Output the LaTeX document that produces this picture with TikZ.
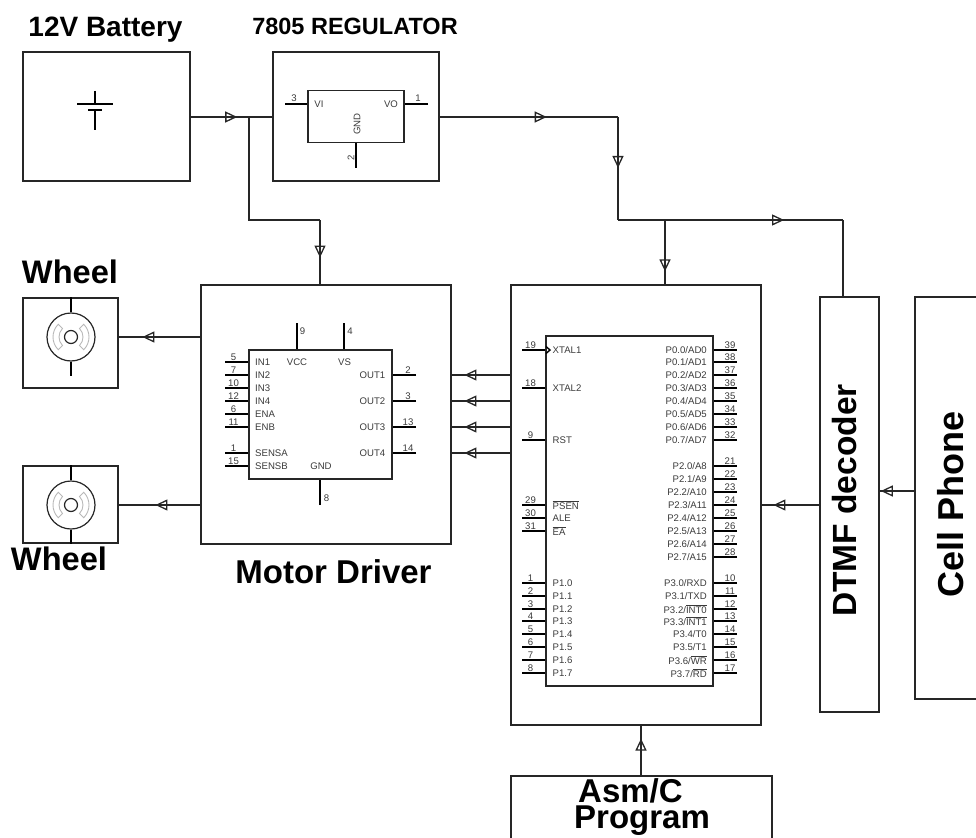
\documentclass[tikz,border=0pt]{standalone}
\usepackage{fontspec}
\setmainfont{Liberation Sans}
\usepackage{xcolor}
\usetikzlibrary{arrows.meta,decorations.markings}
\definecolor{inkline}{HTML}{262626}
\definecolor{inktext}{HTML}{3A3A3A}
\definecolor{magnet}{HTML}{B8B8B8}
\newcommand{\ovl}[1]{$\overline{\mbox{#1}}$}
\newcommand{\bigtext}[1]{\fontsize{#1}{26}\selectfont\bfseries}
\tikzset{
  blockbox/.style={draw=inkline,line width=1.5pt,rectangle,inner sep=0pt},
  chipbox/.style={draw=inkline,line width=1.5pt,rectangle,inner sep=0pt},
  wire/.style={draw=inkline,line width=1.5pt},
  pinline/.style={draw=black,line width=1.4pt},
  midarrow/.style={postaction={decorate,decoration={markings,
      mark=at position #1 with {\arrow{Triangle[open,length=12pt,width=11pt,line width=1.3pt]}}}}},
  pinnum/.style={text=inktext,font=\fontsize{9.6}{10}\selectfont,inner sep=0pt},
  pinlab/.style={text=inktext,font=\fontsize{9.6}{10}\selectfont,inner sep=0pt},
}
\begin{document}
\begin{tikzpicture}[x=1pt,y=-1pt]
    \path[use as bounding box,clip] (0,0) rectangle (976,837);

    % blocks
    \node[blockbox,minimum width=167pt,minimum height=129pt] (bat) at (106.5,116.5) {};
    \node[blockbox,minimum width=166pt,minimum height=129pt] (reg) at (356,116.5) {};
    \node[blockbox,minimum width=250pt,minimum height=259pt] (drv) at (326,414.5) {};
    \node[blockbox,minimum width=250pt,minimum height=440pt] (mcu) at (636,505) {};
    \node[blockbox,minimum width=59pt,minimum height=415pt] (dtmf) at (849.5,504.5) {};
    \node[blockbox,minimum width=100pt,minimum height=402pt] (cell) at (965,498) {};
    \node[blockbox,minimum width=261pt,minimum height=100pt] (asm) at (641.5,826) {};
    \node[blockbox,minimum width=95pt,minimum height=90pt] (whl1) at (70.5,343) {};
    \node[blockbox,minimum width=95pt,minimum height=77pt] (whl2) at (70.5,504.5) {};

    % titles
    \node[anchor=base,font=\bigtext{28}] (t1) at (105.5,37) {12V Battery};
    \node[anchor=base,font=\bigtext{23.5}] (t2) at (355,35) {7805 REGULATOR};
    \node[anchor=base,font=\bigtext{32.6}] (t3) at (70,283) {Wheel};
    \node[anchor=base,font=\bigtext{32.6}] (t4) at (59,570) {Wheel};
    \node[anchor=base,font=\bigtext{33}] (t5) at (333.5,583) {Motor Driver};
    \node[anchor=base,rotate=90,font=\bigtext{33.5}] (t6) at (856,500.5) {DTMF decoder};
    \node[anchor=base,rotate=90,font=\bigtext{36}] (t7) at (963,504.5) {Cell Phone};
    \node[anchor=north west,align=left,inner sep=0pt,font=\bigtext{33}] (t8) at (574,778) {\hspace*{4pt}Asm/C\\Program};

    % battery symbol
    \coordinate (b1) at (95,91);
    \coordinate (b2) at (95,104);
    \coordinate (b3) at (95,110);
    \coordinate (b4) at (95,130);
    \draw[pinline] (b1) -- (b2) (77,104) -- (113,104);
    \draw[pinline] (b3) -- (b4) (88,110) -- (102,110);

    % regulator
    \node[chipbox,minimum width=96pt,minimum height=52pt] (regchip) at (356,116.5) {};
    \coordinate (regin) at (285,104);
    \coordinate (regout) at (428,104);
    \coordinate (reggnd) at (356,168);
    \draw[pinline] (regin) -- (regin -| regchip.west);
    \draw[pinline] (regout) -- (regout -| regchip.east);
    \draw[pinline] (reggnd) -- (reggnd |- regchip.south);
    \node[pinnum] (r3) at (294,98) {3};
    \node[pinnum] (r1) at (418,98) {1};
    \node[pinnum,rotate=90] (r2) at (351,158) {2};
    \node[pinlab] (rvi) at (319,104.5) {VI};
    \node[pinlab] (rvo) at (391,104.5) {VO};
    \node[pinlab,rotate=90] (rgnd) at (357,124) {GND};

    % motor driver
    \node[chipbox,minimum width=143pt,minimum height=129pt] (drvchip) at (320.5,414.5) {};
    \foreach \lab/\num/\y in {IN1/5/362,IN2/7/375,IN3/10/388,IN4/12/401,ENA/6/414,ENB/11/427,SENSA/1/453,SENSB/15/466}{
      \coordinate (pin\num) at (225,\y);
      \draw[pinline] (pin\num) -- (pin\num -| drvchip.west);
      \node[pinnum,anchor=south] (num\num) at (233.5,\y-1) {\num};
      \node[pinlab,anchor=west] (lab\num) at (255,\y+0.5) {\lab};
    }
    \foreach \lab/\num/\y in {OUT1/2/375,OUT2/3/401,OUT3/13/427,OUT4/14/453}{
      \coordinate (pin\num) at (416,\y);
      \draw[pinline] (pin\num) -- (pin\num -| drvchip.east);
      \node[pinnum,anchor=south] (num\num) at (408,\y-1) {\num};
      \node[pinlab,anchor=east] (lab\num) at (385.5,\y+0.5) {\lab};
    }
    \coordinate (pin9) at (297,323);
    \coordinate (pin4) at (344,323);
    \coordinate (pin8) at (320,505);
    \draw[pinline] (pin9) -- (pin9 |- drvchip.north);
    \draw[pinline] (pin4) -- (pin4 |- drvchip.north);
    \draw[pinline] (pin8) -- (pin8 |- drvchip.south);
    \node[pinnum] (num9) at (302.5,331) {9};
    \node[pinnum] (num4) at (350,331) {4};
    \node[pinnum] (num8) at (326.5,498) {8};
    \node[pinlab] (labvcc) at (297,362.5) {VCC};
    \node[pinlab] (labvs) at (344.5,362.5) {VS};
    \node[pinlab] (labgnd) at (321,466.5) {GND};

    % 8051
    \node[chipbox,minimum width=167pt,minimum height=350pt] (mcuchip) at (629.5,511) {};
    \foreach \lab/\num/\y in {XTAL1/19/350,XTAL2/18/388,RST/9/440,{\ovl{PSEN}}/29/505,ALE/30/518,{\ovl{EA}}/31/531,
        P1.0/1/583,P1.1/2/596,P1.2/3/609,P1.3/4/621,P1.4/5/634,P1.5/6/647,P1.6/7/660,P1.7/8/673}{
      \coordinate (mpin\num) at (522,\y);
      \draw[pinline] (mpin\num) -- (mpin\num -| mcuchip.west);
      \node[pinnum,anchor=south] (mnum\num) at (530.5,\y-1) {\num};
      \node[pinlab,anchor=west] (mlab\num) at (552.5,\y) {\lab};
    }
    \foreach \lab/\num/\y in {{P0.0/AD0}/39/350,{P0.1/AD1}/38/362,{P0.2/AD2}/37/375,{P0.3/AD3}/36/388,
        {P0.4/AD4}/35/401,{P0.5/AD5}/34/414,{P0.6/AD6}/33/427,{P0.7/AD7}/32/440,
        {P2.0/A8}/21/466,{P2.1/A9}/22/479,{P2.2/A10}/23/492,{P2.3/A11}/24/505,
        {P2.4/A12}/25/518,{P2.5/A13}/26/531,{P2.6/A14}/27/544,{P2.7/A15}/28/557,
        {P3.0/RXD}/10/583,{P3.1/TXD}/11/596,{P3.2/\ovl{INT0}}/12/609,{P3.3/\ovl{INT1}}/13/621,
        {P3.4/T0}/14/634,{P3.5/T1}/15/647,{P3.6/\ovl{WR}}/16/660,{P3.7/\ovl{RD}}/17/673}{
      \coordinate (mpin\num) at (737,\y);
      \draw[pinline] (mpin\num) -- (mpin\num -| mcuchip.east);
      \node[pinnum,anchor=south] (mnum\num) at (730,\y-1) {\num};
      \node[pinlab,anchor=east] (mlab\num) at (707,\y) {\lab};
    }
    \coordinate (clk1) at (546,346.5);
    \coordinate (clk2) at (550,350);
    \coordinate (clk3) at (546,353.5);
    \draw[pinline] (clk1) -- (clk2) -- (clk3);

    % motors
    \foreach \m/\w/\y in {mot1/whl1/337,mot2/whl2/505}{
      \node[draw=inkline,line width=1.2pt,circle,minimum size=48pt,inner sep=0pt] (\m) at (71,\y) {};
      \node[draw=inkline,line width=1.2pt,circle,minimum size=13pt,inner sep=0pt] (\m in) at (71,\y) {};
      \draw[magnet,line width=0.9pt] ([shift={(-135:18pt)}]\m.center) arc[start angle=-135,end angle=-225,radius=18pt]
        -- ([shift={(135:12pt)}]\m.center) arc[start angle=135,end angle=225,radius=12pt] -- cycle;
      \draw[magnet,line width=0.9pt] ([shift={(-45:18pt)}]\m.center) arc[start angle=-45,end angle=45,radius=18pt]
        -- ([shift={(45:12pt)}]\m.center) arc[start angle=45,end angle=-45,radius=12pt] -- cycle;
    }
    \coordinate (mot1end) at (71,376);
    \draw[pinline] (mot1 |- whl1.north) -- (mot1.north);
    \draw[pinline] (mot1.south) -- (mot1end);
    \draw[pinline] (mot2 |- whl2.north) -- (mot2.north);
    \draw[pinline] (mot2.south) -- (mot2 |- whl2.south);

    % wires
    \coordinate (jbat) at (249,117);
    \coordinate (jdrv) at (320,220);
    \coordinate (j1) at (618,117);
    \coordinate (j2) at (618,220);
    \coordinate (j3) at (843,220);
    \coordinate (j4) at (665,220);
    \coordinate (jdtmf) at (820,505);
    \coordinate (jcell) at (915,491);
    \coordinate (jasm) at (641,776);

    \draw[wire,midarrow=.57] (jbat -| bat.east) -- (jbat -| reg.west);
    \draw[wire] (jbat) |- (jdrv);
    \draw[wire,midarrow=.585] (jdrv) -- (jdrv |- drv.north);
    \draw[wire,midarrow=.6] (j1 -| reg.east) -- (j1);
    \draw[wire,midarrow=.495] (j1) -- (j2);
    \draw[wire,midarrow=.738] (j2) -- (j3);
    \draw[wire] (j3) -- (j3 |- dtmf.north);
    \draw[wire,midarrow=.8] (j4) -- (j4 |- mcu.north);
    \draw[wire,midarrow=.71] (mot1 -| drv.west) -- (mot1 -| whl1.east);
    \draw[wire,midarrow=.55] (mot2 -| drv.west) -- (mot2 -| whl2.east);
    \draw[wire,midarrow=.783] (pin2 -| mcu.west) -- (pin2 -| drv.east);
    \draw[wire,midarrow=.783] (pin3 -| mcu.west) -- (pin3 -| drv.east);
    \draw[wire,midarrow=.783] (pin13 -| mcu.west) -- (pin13 -| drv.east);
    \draw[wire,midarrow=.783] (pin14 -| mcu.west) -- (pin14 -| drv.east);
    \draw[wire,midarrow=.8] (jdtmf) -- (jdtmf -| mcu.east);
    \draw[wire,midarrow=.97] (jcell) -- (jcell -| dtmf.east);
    \draw[wire,midarrow=.745] (jasm) -- (jasm |- mcu.south);
\end{tikzpicture}
\end{document}
